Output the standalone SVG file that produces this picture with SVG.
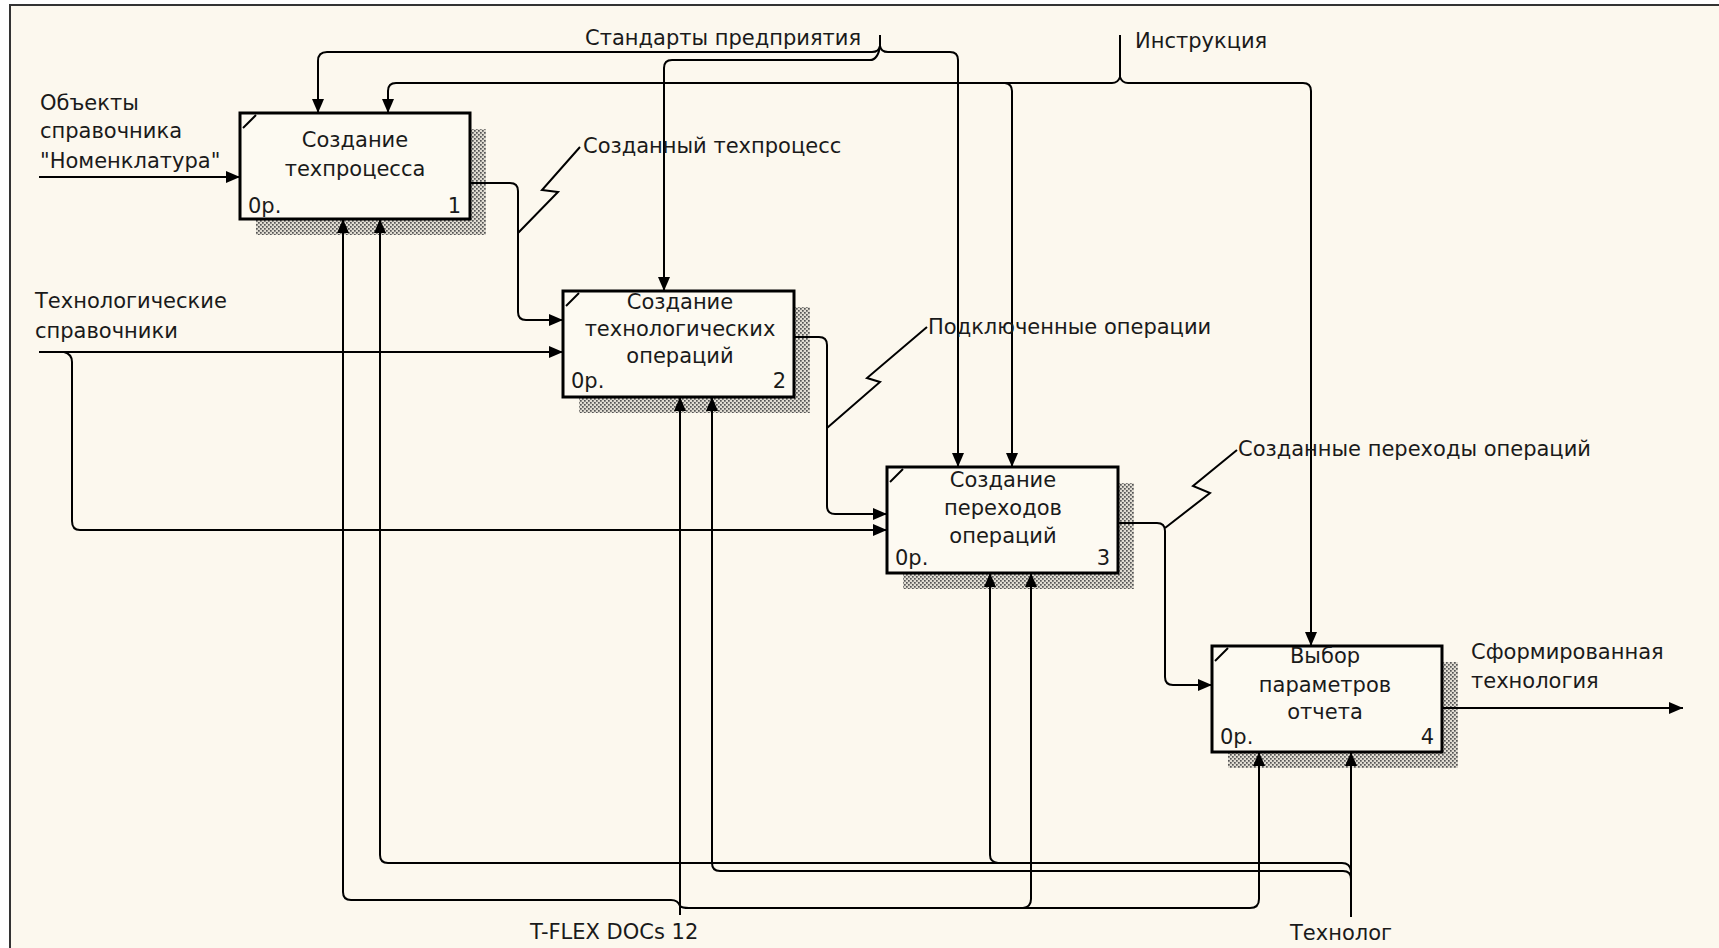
<svg xmlns="http://www.w3.org/2000/svg" width="1719" height="948" viewBox="0 0 1719 948">
<style>
.t{font-family:"DejaVu Sans","Liberation Sans",sans-serif;font-size:21px;fill:#1a1a1a}
.c{text-anchor:middle}
.e{text-anchor:end}
.box{fill:#fdfaf2;stroke:#000;stroke-width:3}
.sh{fill:url(#hatch)}
.cn{fill:none;stroke:#000;stroke-width:2}
.a{marker-end:url(#ah)}
.cm{stroke:#000;stroke-width:2}
</style>
<defs>
<marker id="ah" markerUnits="userSpaceOnUse" markerWidth="15" markerHeight="12" refX="14" refY="6" orient="auto">
<path d="M0,0 L14,6 L0,12 z" fill="#000"/>
</marker>
<pattern id="hatch" width="4" height="4" patternUnits="userSpaceOnUse">
<rect width="4" height="4" fill="#e0dcd2"/>
<rect x="0" y="0" width="1.7" height="1.7" fill="#555"/>
<rect x="2" y="2" width="1.7" height="1.7" fill="#555"/>
</pattern>
</defs>
<rect x="0" y="0" width="1719" height="948" fill="#fff"/>
<rect x="10" y="5" width="1709" height="943" fill="#fcf8ee"/>
<path d="M10,948 V5 H1719" fill="none" stroke="#333" stroke-width="2"/>

<g id="node1">
<rect class="sh" x="256" y="129" width="230" height="106"/>
<rect class="box" x="240" y="113" width="230" height="106"/>
<line class="cm" x1="243" y1="128" x2="256" y2="115"/>
<text class="t c" x="355" y="147">Создание</text>
<text class="t c" x="355" y="176">техпроцесса</text>
<text class="t" x="248" y="213">0р.</text>
<text class="t e" x="461" y="213">1</text>
</g>
<g id="node2">
<rect class="sh" x="579" y="307" width="231" height="106"/>
<rect class="box" x="563" y="291" width="231" height="106"/>
<line class="cm" x1="566" y1="306" x2="579" y2="293"/>
<text class="t c" x="680" y="309">Создание</text>
<text class="t c" x="680" y="336">технологических</text>
<text class="t c" x="680" y="363">операций</text>
<text class="t" x="571" y="388">0р.</text>
<text class="t e" x="786" y="388">2</text>
</g>
<g id="node3">
<rect class="sh" x="903" y="483" width="231" height="106"/>
<rect class="box" x="887" y="467" width="231" height="106"/>
<line class="cm" x1="890" y1="482" x2="903" y2="469"/>
<text class="t c" x="1003" y="487">Создание</text>
<text class="t c" x="1003" y="515">переходов</text>
<text class="t c" x="1003" y="543">операций</text>
<text class="t" x="895" y="565">0р.</text>
<text class="t e" x="1110" y="565">3</text>
</g>
<g id="node4">
<rect class="sh" x="1228" y="662" width="230" height="106"/>
<rect class="box" x="1212" y="646" width="230" height="106"/>
<line class="cm" x1="1215" y1="661" x2="1228" y2="648"/>
<text class="t c" x="1325" y="663">Выбор</text>
<text class="t c" x="1325" y="692">параметров</text>
<text class="t c" x="1325" y="719">отчета</text>
<text class="t" x="1220" y="744">0р.</text>
<text class="t e" x="1434" y="744">4</text>
</g>

<g id="connectors">
<!-- inputs -->
<path class="cn a" d="M39,177 H240"/>
<path class="cn a" d="M39,352 H563"/>
<path class="cn a" d="M64,352 Q72,354 72,362 V521 Q72,530 80,530 H887"/>
<!-- Стандарты предприятия -->
<path class="cn" d="M880,35 V46"/>
<path class="cn a" d="M880,46 Q879,52 872,52 H327 Q318,52 318,61 V113"/>
<path class="cn a" d="M880,46 Q881,52 888,52 H950 Q958,52 958,60 V467"/>
<path class="cn a" d="M880,46 Q878,60 870,60 H672 Q664,60 664,68 V291"/>
<!-- Инструкция -->
<path class="cn" d="M1120,35 V77"/>
<path class="cn a" d="M1120,77 Q1118,83 1112,83 H396 Q388,83 388,91 V113"/>
<path class="cn a" d="M1120,77 Q1122,83 1128,83 H1303 Q1311,83 1311,91 V646"/>
<path class="cn a" d="M1005,83 Q1012,84 1012,91 V467"/>
<!-- Созданный техпроцесс -->
<path class="cn a" d="M470,183 H510 Q518,183 518,191 V312 Q518,320 526,320 H563"/>
<path class="cn" d="M518,233 L558,192 L542,190 L580,147"/>
<!-- Подключенные операции -->
<path class="cn a" d="M794,337 H819 Q827,337 827,345 V506 Q827,514 835,514 H887"/>
<path class="cn" d="M827,428 L880,382 L867,378 L927,327"/>
<!-- Созданные переходы операций -->
<path class="cn a" d="M1118,523 H1157 Q1165,523 1165,531 V677 Q1165,685 1173,685 H1212"/>
<path class="cn" d="M1165,528 L1210,493 L1193,486 L1237,450"/>
<!-- Сформированная технология -->
<path class="cn a" d="M1442,708 H1683"/>
<!-- T-FLEX DOCs 12 -->
<path class="cn a" d="M680,915 V397"/>
<path class="cn a" d="M680,906 Q678,900 671,900 H351 Q343,900 343,892 V219"/>
<path class="cn a" d="M680,906 Q682,908 689,908 H1250 Q1259,908 1259,899 V752"/>
<path class="cn a" d="M1023,908 Q1031,907 1031,899 V573"/>
<!-- Технолог -->
<path class="cn a" d="M1351,917 V752"/>
<path class="cn a" d="M1351,879 Q1351,871 1343,871 H720 Q712,871 712,863 V397"/>
<path class="cn a" d="M1351,871 Q1350,863 1342,863 H388 Q380,863 380,855 V219"/>
<path class="cn a" d="M998,863 Q990,862 990,855 V573"/>
</g>

<g id="labels">
<text class="t" x="40" y="110">Объекты</text>
<text class="t" x="40" y="138">справочника</text>
<text class="t" x="40" y="168">"Номенклатура"</text>
<text class="t" x="35" y="308">Технологические</text>
<text class="t" x="35" y="338">справочники</text>
<text class="t" x="585" y="45">Стандарты предприятия</text>
<text class="t" x="1135" y="48">Инструкция</text>
<text class="t" x="583" y="153">Созданный техпроцесс</text>
<text class="t" x="928" y="334">Подключенные операции</text>
<text class="t" x="1238" y="456">Созданные переходы операций</text>
<text class="t" x="1471" y="659">Сформированная</text>
<text class="t" x="1471" y="688">технология</text>
<text class="t" x="530" y="939">T-FLEX DOCs 12</text>
<text class="t" x="1290" y="940">Технолог</text>
</g>
</svg>
